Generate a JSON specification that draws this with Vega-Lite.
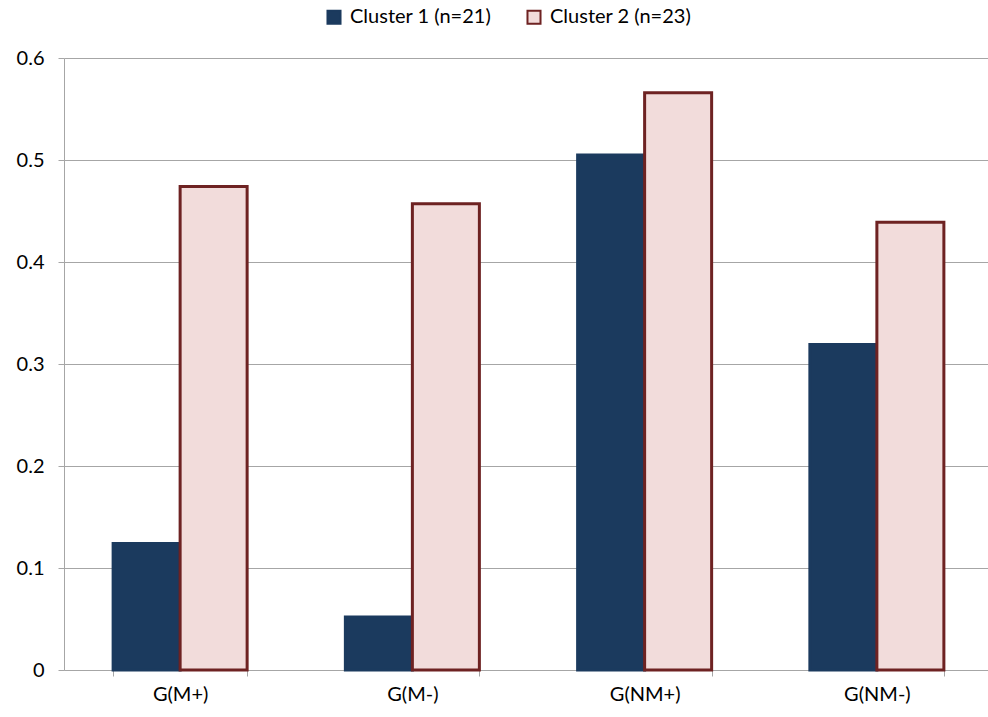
{
  "$schema": "https://vega.github.io/schema/vega-lite/v6.json",
  "width": 924,
  "height": 612,
  "autosize": "none",
  "padding": {"left": 64, "top": 58, "right": 0, "bottom": 47},
  "background": "white",
  "config": {
    "font": "Lato",
    "view": {"stroke": null}
  },
  "data": {
    "values": [
      {"group": "G(M+)", "cluster": "Cluster 1 (n=21)", "value": 0.124},
      {"group": "G(M+)", "cluster": "Cluster 2 (n=23)", "value": 0.474},
      {"group": "G(M-)", "cluster": "Cluster 1 (n=21)", "value": 0.052},
      {"group": "G(M-)", "cluster": "Cluster 2 (n=23)", "value": 0.457},
      {"group": "G(NM+)", "cluster": "Cluster 1 (n=21)", "value": 0.505},
      {"group": "G(NM+)", "cluster": "Cluster 2 (n=23)", "value": 0.566},
      {"group": "G(NM-)", "cluster": "Cluster 1 (n=21)", "value": 0.319},
      {"group": "G(NM-)", "cluster": "Cluster 2 (n=23)", "value": 0.439}
    ]
  },
  "mark": {"type": "bar", "strokeWidth": 3, "cornerRadius": 0},
  "encoding": {
    "x": {
      "field": "group",
      "type": "nominal",
      "sort": null,
      "scale": {"range": [0, 929], "paddingInner": 0.423, "paddingOuter": 0.2115},
      "axis": {
        "title": null,
        "labelAngle": 0,
        "labelFontSize": 20,
        "labelColor": "#000000",
        "labelPadding": 8,
        "tickBand": "extent",
        "tickSize": 6,
        "tickColor": "#A6A6A6",
        "domainColor": "#A6A6A6",
        "grid": false
      }
    },
    "xOffset": {"field": "cluster", "type": "nominal", "scale": {"paddingInner": 0, "paddingOuter": 0}},
    "y": {
      "field": "value",
      "type": "quantitative",
      "scale": {"domain": [0, 0.6], "nice": false},
      "axis": {
        "title": null,
        "values": [0, 0.1, 0.2, 0.3, 0.4, 0.5, 0.6],
        "labelFontSize": 20,
        "labelColor": "#000000",
        "labelPadding": 14,
        "tickSize": 6,
        "tickColor": "#A6A6A6",
        "domainColor": "#A6A6A6",
        "gridColor": "#A6A6A6",
        "format": "~g"
      }
    },
    "fill": {
      "field": "cluster",
      "type": "nominal",
      "scale": {"range": ["#1B3A5E", "#F2DCDB"]},
      "legend": {
        "title": null,
        "orient": "none",
        "legendX": 260,
        "legendY": -51,
        "direction": "horizontal",
        "symbolType": "square",
        "symbolSize": 170,
        "symbolStrokeWidth": 2,
        "labelFontSize": 20,
        "labelColor": "#000000",
        "columnPadding": 31,
        "labelOffset": 6
      }
    },
    "stroke": {
      "field": "cluster",
      "type": "nominal",
      "scale": {"range": ["#1B3A5E", "#6E2222"]},
      "legend": null
    }
  }
}
